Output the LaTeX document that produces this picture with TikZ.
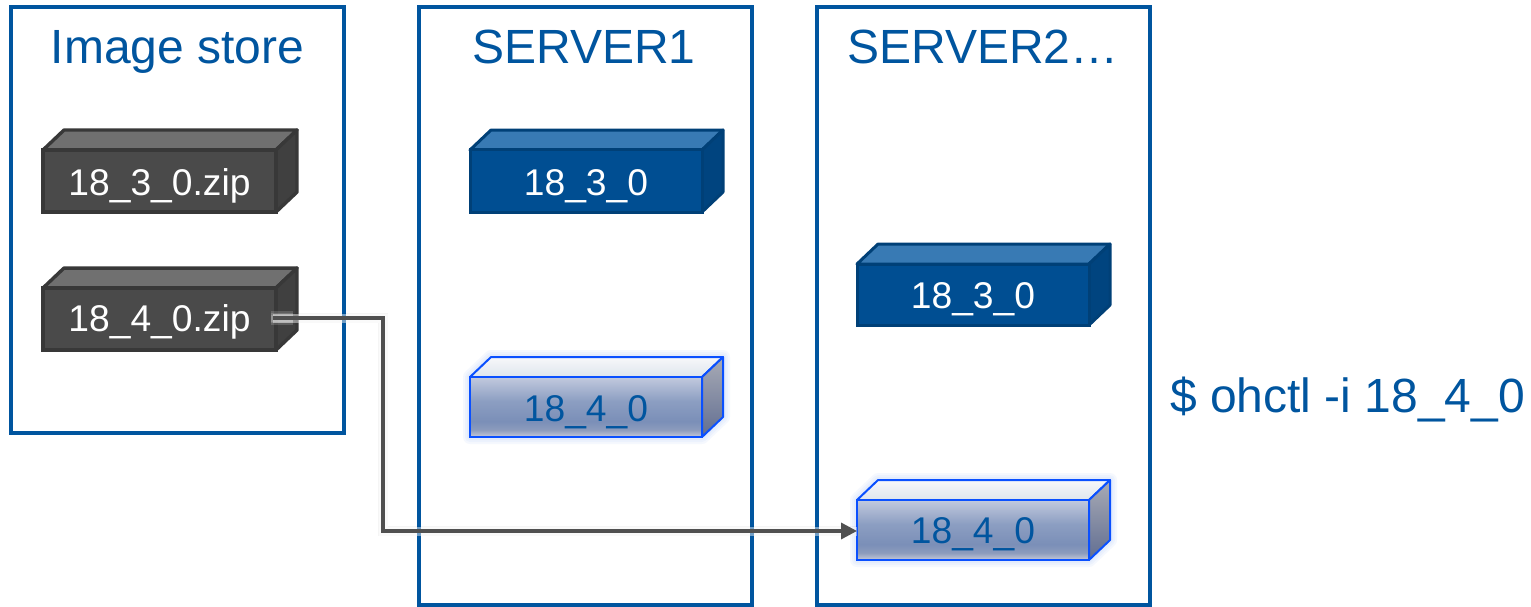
\documentclass[tikz,border=0pt]{standalone}
\usepackage{fontspec}
\setmainfont{Liberation Sans}
\usetikzlibrary{arrows.meta,calc}
\definecolor{ibm}{HTML}{00559F}
\definecolor{glowb}{HTML}{7FA5F5}
\definecolor{edgeb}{HTML}{0A50FF}
\definecolor{linegray}{HTML}{505050}
\pgfdeclareverticalshading{sfront}{100bp}{
  rgb(0bp)=(.78,.79,.85); rgb(25bp)=(.78,.79,.85); rgb(31bp)=(.55,.61,.74); rgb(38bp)=(.48,.56,.72);
  rgb(55bp)=(.55,.62,.76); rgb(75bp)=(.76,.79,.87); rgb(100bp)=(.76,.79,.87)}
\pgfdeclareverticalshading{stopf}{100bp}{
  rgb(0bp)=(.87,.90,.93); rgb(25bp)=(.87,.90,.93); rgb(75bp)=(.97,.97,.98); rgb(100bp)=(.97,.97,.98)}
\pgfdeclareverticalshading{srightf}{100bp}{
  rgb(0bp)=(.38,.43,.57); rgb(25bp)=(.38,.43,.57); rgb(75bp)=(.66,.67,.71); rgb(100bp)=(.66,.67,.71)}
\tikzset{
  panel/.style={draw=ibm,line width=3.4pt,fill=white},
  title/.style={text=ibm,font=\fontsize{48}{50}\selectfont,anchor=base,inner sep=0pt},
  zipfront/.style={fill=black!71,draw=black!78,line width=3.4pt},
  ziptop/.style={fill=black!56,draw=black!78,line width=3.4pt,line join=round},
  zipright/.style={fill=black!75,draw=black!78,line width=3.4pt,line join=round},
  zipglow/.style={draw=none},
  ziplbl/.style={text=white,font=\fontsize{37.2}{40}\selectfont,anchor=base,inner sep=0pt},
  solfront/.style={fill=ibm!92!black,draw=ibm!75!black,line width=3pt},
  soltop/.style={fill=ibm!78!white,draw=ibm!75!black,line width=3pt,line join=round},
  solright/.style={fill=ibm!80!black,draw=ibm!75!black,line width=3pt,line join=round},
  solglow/.style={draw=none},
  sollbl/.style={text=white,font=\fontsize{37.2}{40}\selectfont,anchor=base,inner sep=0pt},
  newfront/.style={shading=sfront,draw=edgeb,line width=2pt},
  newtop/.style={shading=stopf,draw=edgeb,line width=2pt,line join=round},
  newright/.style={shading=srightf,draw=edgeb,line width=2pt,line join=round},
  newglow/.style={draw=glowb,opacity=.07,line join=round},
  newlbl/.style={text=ibm,font=\fontsize{37.2}{40}\selectfont,anchor=base,inner sep=0pt},
  linkline/.style={draw=linegray,line width=3.4pt,line join=miter},
  linkhalo/.style={draw=white,opacity=.45,line width=9pt},
  linkshadow/.style={draw=black,opacity=.04,line width=10pt}
}
% name, x, y, w, h, depth, kind, text, baseline
\newcommand{\cubebox}[9]{%
  \foreach \gw in {14,10,6}{
    \path[#7glow,line width=\gw pt] (#2,#3) -- ++(#6,-#6*.95) -- ++(#4,0) -- ++(0,#5) -- ++(-#6,#6*.95) -- ++(-#4,0) -- cycle;
  }
  \path[#7top] (#2,#3) -- ++(#6,-#6*.95) -- ++(#4,0) -- ++(-#6,#6*.95) -- cycle;
  \path[#7right] ({#2+#4},#3) -- ++(#6,-#6*.95) -- ++(0,#5) -- ++(-#6,#6*.95) -- cycle;
  \node[#7front,minimum width=#4 pt,minimum height=#5 pt,inner sep=0pt,outer sep=0pt] (#1) at ({#2+#4/2},{#3+#5/2}) {};
  \node[#7lbl] (#1-t) at ({#2+#4/2},#9) {#8};
}
\begin{document}
\begin{tikzpicture}[x=1pt,y=-1pt]
\useasboundingbox (0,0) rectangle (1531,607);
\node[panel,minimum width=333pt,minimum height=426pt,inner sep=0pt,outer sep=0pt] (store) at (177.5,220) {};
\node[panel,minimum width=333pt,minimum height=598pt,inner sep=0pt,outer sep=0pt] (srv1) at (585.5,306) {};
\node[panel,minimum width=333pt,minimum height=598pt,inner sep=0pt,outer sep=0pt] (srv2) at (983.5,306) {};
\node[title] (t0) at (177.5,64) {Image store};
\node[title] (t1) at (584,64) {SERVER1};
\node[title] (t2) at (983,64) {SERVER2…};
\cubebox{z1}{43}{150}{233}{62}{21}{zip}{18\_3\_0.zip}{195}
\cubebox{z2}{43}{288}{233}{62}{21}{zip}{18\_4\_0.zip}{331}
\cubebox{a1}{470}{150}{232}{62}{21}{sol}{18\_3\_0}{195}
\cubebox{a2}{470}{377}{232}{60}{21}{new}{18\_4\_0}{421}
\cubebox{b1}{857}{264}{232}{61}{21}{sol}{18\_3\_0}{308}
\cubebox{b2}{857}{500}{232}{60}{21}{new}{18\_4\_0}{543}
\node[title,anchor=base west] (cmd) at (1170,412) {\$ ohctl -i 18\_4\_0};
\coordinate (start) at ([xshift=-3pt,yshift=1pt]z2.east);
\coordinate (bend1) at (383,318);
\coordinate (bend2) at (383,531);
\path[linkshadow] (start) -- (bend1) -- (bend2) -- (b2.west |- bend2);
\path[linkhalo] (start) -- (bend1) -- (bend2) -- (b2.west |- bend2);
\foreach \hw in {14,10,7}{
  \path[draw=white,opacity=.16,line width=\hw pt] ([xshift=-2pt]start) -- ++(22,0);
}
\path[linkline,-{Triangle[length=16pt,width=16pt]}] (start) -- (bend1) -- (bend2) -- (b2.west |- bend2);
\end{tikzpicture}
\end{document}
